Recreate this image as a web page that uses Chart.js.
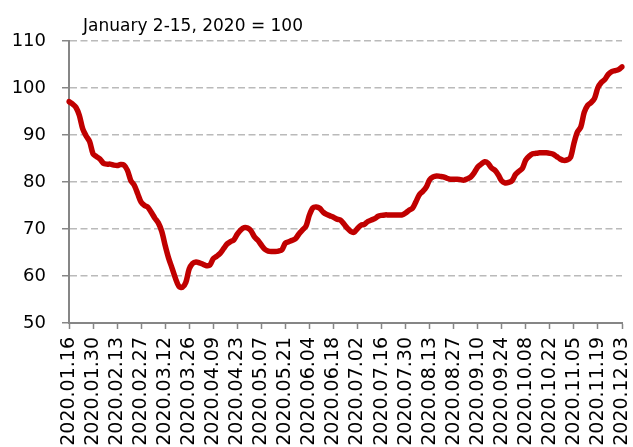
<!DOCTYPE html>
<html>
<head>
<meta charset="utf-8">
<script src="https://cdn.jsdelivr.net/npm/chart.js@4.4.1/dist/chart.umd.min.js"></script>
<style>
  html, body { margin: 0; padding: 0; background: #fff; }
  #wrap { position: relative; width: 633px; height: 447px; }
  #note { position: absolute; left: 83px; top: 15px; font: 17px "DejaVu Sans"; line-height: 20px; color: #000; white-space: nowrap; }
</style>
</head>
<body>
<div id="wrap">
  <canvas id="chart" width="633" height="447"></canvas>
  <div id="note">January 2-15, 2020 = 100</div>
</div>
<script>
// one point every 2 days, starting 2020.01.16
var startDay = Date.UTC(2020, 0, 16);
var stepDays = 2;
var labelEvery = 7; // one tick label every 14 days

var tickLabels = ['2020.01.16', '2020.01.30', '2020.02.13', '2020.02.27', '2020.03.12', '2020.03.26',
	'2020.04.09', '2020.04.23', '2020.05.07', '2020.05.21', '2020.06.04', '2020.06.18',
	'2020.07.02', '2020.07.16', '2020.07.30', '2020.08.13', '2020.08.27', '2020.09.10',
	'2020.09.24', '2020.10.08', '2020.10.22', '2020.11.05', '2020.11.19', '2020.12.03'];

var values = [
	97.1, 96.6, 95.9, 94.2, 91.3, 89.8, 88.6, 86.0, 85.4, 84.9, 84.0, 83.8, 83.8, 83.6, 83.5, 83.7,
	83.6, 82.5, 80.3, 79.3, 77.5, 75.7, 75.0, 74.6, 73.5, 72.3, 71.3, 69.5, 66.5, 63.8, 61.7, 59.5,
	57.8, 57.6, 58.6, 61.5, 62.7, 63.0, 62.8, 62.5, 62.2, 62.3, 63.7, 64.2, 64.8, 65.8, 66.8, 67.3,
	67.7, 68.9, 69.8, 70.3, 70.2, 69.6, 68.3, 67.6, 66.6, 65.7, 65.3, 65.2, 65.2, 65.3, 65.6, 67.0,
	67.3, 67.6, 68.0, 69.0, 69.8, 70.6, 73.0, 74.5, 74.7, 74.4, 73.6, 73.1, 72.8, 72.5, 72.1, 71.9,
	71.1, 70.2, 69.5, 69.3, 70.1, 70.8, 71.0, 71.6, 71.9, 72.2, 72.7, 72.9, 73.0, 73.0, 73.0, 73.0,
	73.0, 73.0, 73.4, 74.0, 74.4, 75.8, 77.3, 78.0, 78.9, 80.5, 81.1, 81.3, 81.2, 81.1, 80.8, 80.6,
	80.6, 80.6, 80.5, 80.4, 80.7, 81.1, 82.0, 83.2, 83.8, 84.3, 84.0, 83.0, 82.5, 81.5, 80.2, 79.8,
	79.9, 80.3, 81.6, 82.3, 82.9, 84.7, 85.5, 86.0, 86.1, 86.2, 86.2, 86.2, 86.1, 85.9, 85.4, 84.9,
	84.6, 84.7, 85.2, 88.2, 90.6, 91.7, 94.8, 96.3, 96.9, 97.8, 100.1, 101.2, 101.8, 102.9, 103.5, 103.7,
	103.9, 104.5
];

var yMin = 50, yMax = 110, yStep = 10;

function pad2(n) {
	return (n < 10 ? '0' : '') + n;
}

var categories = [];
for (var i = 0; i < values.length; i++) {
	var d = new Date(startDay + i * stepDays * 86400000);
	categories.push(d.getUTCFullYear() + '.' + pad2(d.getUTCMonth() + 1) + '.' + pad2(d.getUTCDate()));
}

var axisColor = '#868686';

var ctx = document.getElementById('chart').getContext('2d');
var chart = new Chart(ctx, {
	type: 'line',
	data: {
		labels: categories,
		datasets: [{
			data: values,
			borderColor: '#c00000',
			borderWidth: 5.5,
			borderCapStyle: 'round',
			borderJoinStyle: 'round',
			pointRadius: 0,
			tension: 0.3,
			fill: false
		}]
	},
	options: {
		responsive: false,
		animation: false,
		layout: {
			padding: {top: 41, right: 11, left: 0, bottom: 0}
		},
		plugins: {
			legend: {display: false},
			tooltip: {enabled: false}
		},
		scales: {
			x: {
				offset: false,
				grid: {
					drawOnChartArea: false,
					drawTicks: true,
					tickLength: 6,
					tickColor: axisColor,
					tickWidth: 1.5
				},
				border: {color: axisColor, width: 2},
				ticks: {
					autoSkip: false,
					maxRotation: 90,
					minRotation: 90,
					padding: 8,
					color: '#000',
					font: {family: 'DejaVu Sans', size: 19},
					callback: function(value, index) {
						return index % labelEvery === 0 ? tickLabels[index / labelEvery] : null;
					}
				},
				afterFit: function(scale) {
					scale.height = 124;
					scale.paddingLeft = 0;
					scale.paddingRight = 0;
				}
			},
			y: {
				min: yMin,
				max: yMax,
				grid: {
					color: '#bababa',
					lineWidth: 1.5,
					drawTicks: true,
					tickLength: 7,
					tickColor: axisColor,
					tickWidth: 1.5
				},
				border: {color: axisColor, width: 2, dash: [7, 3.5]},
				ticks: {
					stepSize: yStep,
					padding: 16,
					color: '#000',
					font: {family: 'DejaVu Sans', size: 18}
				},
				afterFit: function(scale) {
					scale.width = 69;
				}
			}
		}
	}
});
</script>
</body>
</html>
